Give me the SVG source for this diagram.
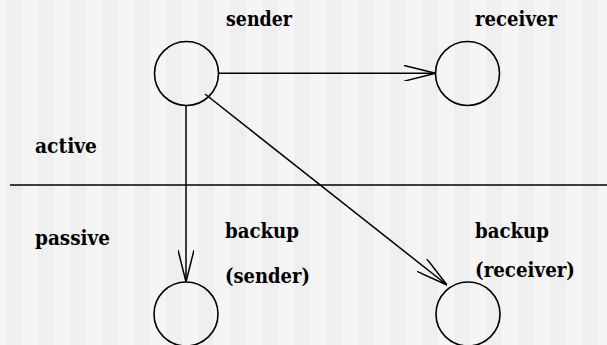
<svg xmlns="http://www.w3.org/2000/svg" width="607" height="345" viewBox="0 0 607 345">
<defs>
<pattern id="stripes" x="0" y="0" width="32" height="345" patternUnits="userSpaceOnUse">
<rect x="0" y="0" width="32" height="345" fill="#f5f5f5"/>
<rect x="6" y="0" width="16" height="345" fill="#efefef"/>
</pattern>
<marker id="open" viewBox="0 0 32 16" refX="32" refY="8" markerWidth="32" markerHeight="16" markerUnits="userSpaceOnUse" orient="auto">
<path d="M0,0 L32,8 L0,16" fill="none" stroke="#000" stroke-width="1.5"/>
</marker>
</defs>
<style>
.n{fill:none;stroke:#000;stroke-width:1.6}
.e{fill:none;stroke:#000;stroke-width:1.5}
.t{font-family:'DejaVu Serif','Liberation Serif',serif;font-weight:bold;font-size:20px;fill:#000}
</style>
<rect width="607" height="345" fill="url(#stripes)"/>
<g id="sender"><circle class="n" cx="186.5" cy="73.5" r="32"/><text class="t" x="226" y="26" textLength="66" lengthAdjust="spacingAndGlyphs">sender</text></g>
<g id="receiver"><circle class="n" cx="467.5" cy="73.5" r="32"/><text class="t" x="475" y="26" textLength="82" lengthAdjust="spacingAndGlyphs">receiver</text></g>
<g id="backup-sender"><circle class="n" cx="186" cy="314" r="32"/><text class="t" x="225" y="238" textLength="74" lengthAdjust="spacingAndGlyphs">backup</text><text class="t" x="225" y="283" textLength="85" lengthAdjust="spacingAndGlyphs">(sender)</text></g>
<g id="backup-receiver"><circle class="n" cx="468" cy="314" r="32"/><text class="t" x="475" y="238" textLength="74" lengthAdjust="spacingAndGlyphs">backup</text><text class="t" x="475" y="277" textLength="100" lengthAdjust="spacingAndGlyphs">(receiver)</text></g>
<g id="labels"><text class="t" x="35" y="153" textLength="62" lengthAdjust="spacingAndGlyphs">active</text><text class="t" x="35" y="245" textLength="75" lengthAdjust="spacingAndGlyphs">passive</text></g>
<g id="connectors">
<line x1="10" y1="185" x2="607" y2="185" stroke="#000" stroke-width="1.6"/>
<line class="e" x1="218.5" y1="73.3" x2="435.5" y2="73.3" marker-end="url(#open)"/>
<line class="e" x1="186" y1="105.5" x2="186" y2="282" marker-end="url(#open)"/>
<line class="e" x1="205" y1="94" x2="447" y2="285" marker-end="url(#open)"/>
</g>
</svg>
